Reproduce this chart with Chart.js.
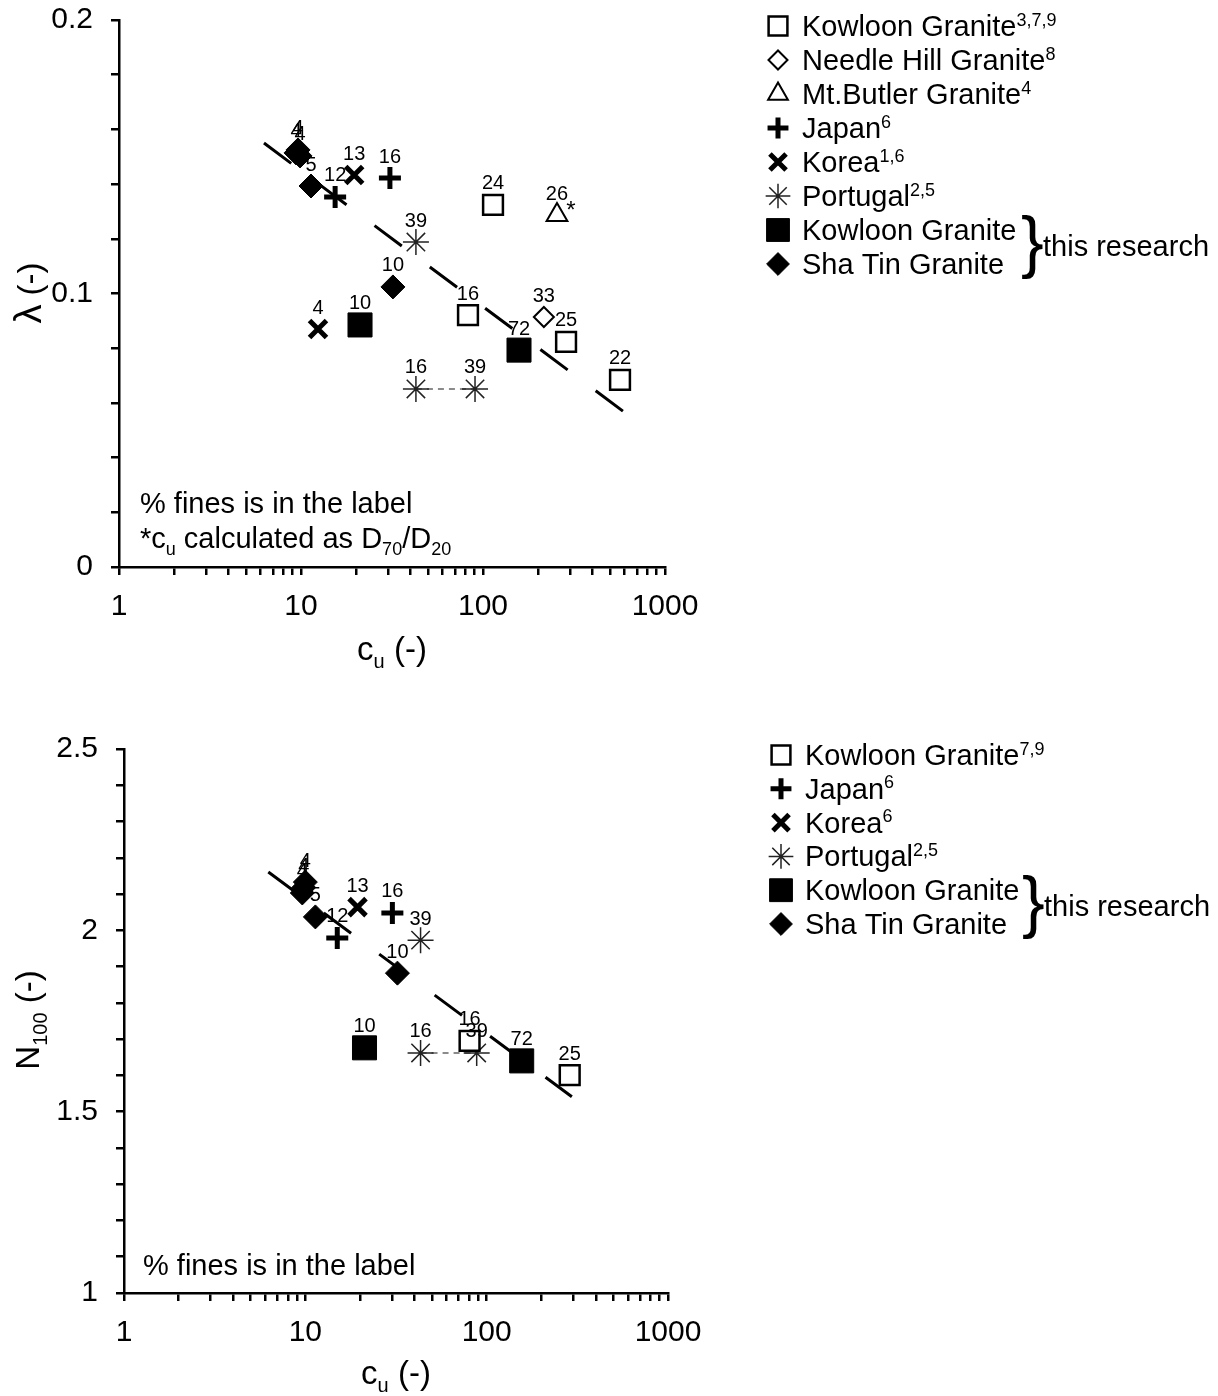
<!DOCTYPE html>
<html lang="en">
<head>
  <meta charset="UTF-8">
  <title>lambda and N100 against cu</title>
  <style>
    html, body { margin: 0; padding: 0; background: #fff; }
    .wrap { position: absolute; left: 0; width: 1218px; height: 698px; }
    #top { top: 0; }
    #bottom { top: 698px; }
  </style>
</head>
<body>
  <div class="wrap" id="top"><canvas id="lambdaChart" width="1218" height="698"></canvas></div>
  <div class="wrap" id="bottom"><canvas id="nChart" width="1218" height="698"></canvas></div>
<script src="https://cdn.jsdelivr.net/npm/chart.js@4"></script>
<script>
// ---- tick labels
const xTickLabels = ['1', '10', '100', '1000'];
const lambdaTickLabels = ['0', '0.1', '0.2'];
const n100TickLabels = ['1', '1.5', '2', '2.5'];

// ---- top chart: lambda vs cu  (fines % in the labels)
const kwLitCu = [113.5, 82.7, 286, 566];
const kwLitLambda = [0.1324, 0.0921, 0.0823, 0.0684];
const kwLitFines = ['24', '16', '25', '22'];
const needleCu = [216];
const needleLambda = [0.0914];
const needleFines = ['33'];
const butlerCu = [255];
const butlerLambda = [0.1287];
const butlerFines = ['26'];
const japanCu = [30.8, 15.4];
const japanLambda = [0.1422, 0.1353];
const japanFines = ['16', '12'];
const koreaCu = [19.6, 12.4];
const koreaLambda = [0.1433, 0.0870];
const koreaFines = ['13', '4'];
const portugalCu = [42.8, 42.8, 90.4];
const portugalLambda = [0.1188, 0.0651, 0.0651];
const portugalFines = ['39', '16', '39'];
const kwOwnCu = [21.1, 157.7];
const kwOwnLambda = [0.0885, 0.0793];
const kwOwnFines = ['10', '72'];
const shaTinCu = [9.63, 9.39, 9.88, 11.35, 32.0];
const shaTinLambda = [0.1525, 0.1514, 0.1503, 0.1393, 0.1024];
const shaTinFines = ['4', '4', '4', '5', '10'];
const trendLambdaCu = [6.26, 595];
const trendLambda = [0.155, 0.0567];

// ---- bottom chart: N100 vs cu
const kwLitCuN = [80.5, 287];
const kwLitN = [1.695, 1.601];
const kwLitFinesN = ['16', '25'];
const japanCuN = [30.2, 15.0];
const japanN = [2.048, 1.979];
const japanFinesN = ['16', '12'];
const koreaCuN = [19.4];
const koreaN = [2.064];
const koreaFinesN = ['13'];
const portugalCuN = [43.2, 43.2, 88.1];
const portugalN = [1.973, 1.662, 1.662];
const portugalFinesN = ['39', '16', '39'];
const kwOwnCuN = [21.2, 156];
const kwOwnN = [1.676, 1.640];
const kwOwnFinesN = ['10', '72'];
const shaTinCuN = [10.0, 9.8, 9.62, 11.36, 32.2];
const shaTinN = [2.133, 2.118, 2.103, 2.037, 1.882];
const shaTinFinesN = ['4', '4', '4', '5', '10'];
const trendNCu = [6.25, 295];
const trendN = [2.161, 1.541];

const FONT = '"Liberation Sans", Arial, sans-serif';

function pts(xs, ys) {
  return xs.map((x, i) => ({ x: x, y: ys[i] }));
}

// marker styles
const openSquare = { pointStyle: 'rect', pointRadius: 14, borderWidth: 2.5, backgroundColor: '#fff', borderColor: '#000' };
const openDiamond = { pointStyle: 'rectRot', pointRadius: 10, borderWidth: 2, backgroundColor: '#fff', borderColor: '#000' };
const openTriangle = { pointStyle: 'triangle', pointRadius: 12, borderWidth: 2, backgroundColor: '#fff', borderColor: '#000' };
const plus = { pointStyle: 'cross', pointRadius: 11, borderWidth: 5, backgroundColor: '#000', borderColor: '#000' };
const xMark = { pointStyle: 'crossRot', pointRadius: 12, borderWidth: 5, backgroundColor: '#000', borderColor: '#000' };
const asterisk = { pointStyle: 'star', pointRadius: 13, borderWidth: 1.5, backgroundColor: '#222', borderColor: '#222' };
const fullSquare = { pointStyle: 'rect', pointRadius: 17, borderWidth: 1, backgroundColor: '#000', borderColor: '#000' };
const fullDiamond = { pointStyle: 'rectRot', pointRadius: 12, borderWidth: 1, backgroundColor: '#000', borderColor: '#000' };

function series(label, xs, ys, fines, style, extra) {
  return Object.assign({ label: label, data: pts(xs, ys), fines: fines }, style, extra || {});
}

function trendLine(xs, ys) {
  return { label: 'trend', data: pts(xs, ys), showLine: true, pointRadius: 0,
    borderColor: '#000', borderWidth: 3, borderDash: [34, 35], fill: false };
}

function linkLine(xs, ys) {
  return { label: 'link', data: pts(xs, ys), showLine: true, pointRadius: 0,
    borderColor: '#666', borderWidth: 1.5, borderDash: [6, 5], fill: false };
}

// draws text made of parts, some sub- or superscript
function richText(ctx, parts, x, y, size, align) {
  const fontOf = p => Math.round((p.sub || p.sup) ? size * 0.62 : size * (p.scale || 1)) + 'px ' + FONT;
  let total = 0;
  parts.forEach(p => { ctx.font = fontOf(p); total += ctx.measureText(p.t).width; });
  let cx = align === 'center' ? x - total / 2 : x;
  ctx.textAlign = 'left';
  ctx.textBaseline = 'alphabetic';
  parts.forEach(p => {
    ctx.font = fontOf(p);
    const dy = p.sub ? size * 0.24 : (p.sup ? -size * 0.36 : 0);
    ctx.fillText(p.t, cx, y + dy);
    cx += ctx.measureText(p.t).width;
  });
}

const overlay = {
  id: 'overlay',
  afterDatasetsDraw(chart, args, o) {
    const ctx = chart.ctx;
    ctx.save();
    ctx.fillStyle = '#000';
    // fines labels above the points
    chart.data.datasets.forEach((ds, i) => {
      if (!ds.fines) return;
      chart.getDatasetMeta(i).data.forEach((el, j) => {
        ctx.font = '20px ' + FONT;
        ctx.textAlign = 'center';
        ctx.textBaseline = 'middle';
        ctx.fillText(ds.fines[j], el.x, el.y - 21);
        if (ds.starNote) {
          ctx.font = '24px ' + FONT;
          ctx.fillText('*', el.x + 14, el.y - 4);
        }
      });
    });
    // axis titles
    ctx.save();
    ctx.translate(o.yTitle.x, o.yTitle.y);
    ctx.rotate(-Math.PI / 2);
    richText(ctx, o.yTitle.parts, 0, 11, 33, 'center');
    ctx.restore();
    richText(ctx, o.xTitle.parts, o.xTitle.x, o.xTitle.y, 33, 'center');
    // notes
    o.notes.forEach(n => richText(ctx, n.parts, n.x, n.y, 29, 'left'));
    // legend
    const L = o.legend;
    L.items.forEach((it, k) => {
      const ds = chart.data.datasets[it.ds];
      const y = L.y + k * L.dy;
      ctx.fillStyle = ds.backgroundColor;
      ctx.strokeStyle = ds.borderColor;
      ctx.lineWidth = ds.borderWidth;
      Chart.helpers.drawPoint(ctx, { pointStyle: ds.pointStyle, radius: ds.pointRadius * 0.95,
        borderWidth: ds.borderWidth, rotation: 0 }, L.mx, y);
      ctx.fillStyle = '#000';
      const parts = [{ t: it.name }];
      if (it.ref) parts.push({ t: it.ref, sup: true });
      richText(ctx, parts, L.tx, y + 10, 29, 'left');
    });
    // brace and "this research"
    ctx.font = '68px ' + FONT;
    ctx.textAlign = 'left';
    ctx.textBaseline = 'middle';
    ctx.fillText('}', L.braceX, L.braceY);
    ctx.font = '29px ' + FONT;
    ctx.fillText('this research', L.braceX + 22, L.braceY + 2);
    ctx.restore();
  }
};

function axes(yMin, yMax, yStep, yLabels, leftW, bottomH) {
  const tickFont = { family: FONT, size: 30 };
  return {
    x: {
      type: 'logarithmic', min: 1, max: 1000,
      border: { color: '#000', width: 2.5 },
      grid: { drawOnChartArea: false, drawTicks: true, tickLength: 8, color: '#000', lineWidth: 2.5 },
      ticks: {
        autoSkip: false, maxRotation: 0, color: '#000', padding: 14, font: tickFont,
        callback: v => { const s = String(+(+v).toFixed(3)); return xTickLabels.includes(s) ? s : ''; }
      },
      afterBuildTicks: scale => {
        const t = [];
        [1, 10, 100].forEach(d => { for (let m = 1; m < 10; m++) t.push({ value: m * d }); });
        t.push({ value: 1000 });
        scale.ticks = t;
      },
      afterFit: scale => { scale.height = bottomH; scale.paddingLeft = 0; scale.paddingRight = 0; }
    },
    y: {
      min: yMin, max: yMax,
      border: { color: '#000', width: 2.5 },
      grid: { drawOnChartArea: false, drawTicks: true, tickLength: 8, color: '#000', lineWidth: 2.5 },
      ticks: {
        stepSize: yStep, autoSkip: false, color: '#000', padding: 18, font: tickFont,
        callback: v => { const s = String(+(+v).toFixed(3)); return yLabels.includes(s) ? s : ''; }
      },
      afterFit: scale => { scale.width = leftW; scale.paddingTop = 0; scale.paddingBottom = 0; }
    }
  };
}

function build(id, datasets, scales, padding, overlayOpts) {
  return new Chart(document.getElementById(id), {
    type: 'scatter',
    data: { datasets: datasets },
    options: {
      responsive: false,
      animation: false,
      events: [],
      layout: { padding: padding },
      scales: scales,
      plugins: { legend: { display: false }, tooltip: { enabled: false }, overlay: overlayOpts }
    },
    plugins: [overlay]
  });
}

// ---- top chart
const topSets = [
  series('Kowloon Granite', kwLitCu, kwLitLambda, kwLitFines, openSquare),
  series('Needle Hill Granite', needleCu, needleLambda, needleFines, openDiamond),
  series('Mt.Butler Granite', butlerCu, butlerLambda, butlerFines, openTriangle, { starNote: true }),
  series('Japan', japanCu, japanLambda, japanFines, plus),
  series('Korea', koreaCu, koreaLambda, koreaFines, xMark),
  series('Portugal', portugalCu, portugalLambda, portugalFines, asterisk),
  series('Kowloon Granite (this research)', kwOwnCu, kwOwnLambda, kwOwnFines, fullSquare),
  series('Sha Tin Granite', shaTinCu, shaTinLambda, shaTinFines, fullDiamond),
  linkLine(portugalCu.slice(1), portugalLambda.slice(1)),
  trendLine(trendLambdaCu, trendLambda)
];

build('lambdaChart', topSets, axes(0, 0.2, 0.02, lambdaTickLabels, 119, 131),
  { top: 20, right: 553, left: 0, bottom: 0 },
  {
    yTitle: { x: 30, y: 293, parts: [{ t: 'λ', scale: 1.15 }, { t: ' (-)' }] },
    xTitle: { x: 392, y: 660, parts: [{ t: 'c' }, { t: 'u', sub: true }, { t: ' (-)' }] },
    notes: [
      { x: 140, y: 513, parts: [{ t: '% fines is in the label' }] },
      { x: 140, y: 548, parts: [{ t: '*c' }, { t: 'u', sub: true }, { t: ' calculated as D' }, { t: '70', sub: true }, { t: '/D' }, { t: '20', sub: true }] }
    ],
    legend: {
      mx: 778, tx: 802, y: 26, dy: 34.0, braceX: 1021, braceY: 246,
      items: [
        { ds: 0, name: 'Kowloon Granite', ref: '3,7,9' },
        { ds: 1, name: 'Needle Hill Granite', ref: '8' },
        { ds: 2, name: 'Mt.Butler Granite', ref: '4' },
        { ds: 3, name: 'Japan', ref: '6' },
        { ds: 4, name: 'Korea', ref: '1,6' },
        { ds: 5, name: 'Portugal', ref: '2,5' },
        { ds: 6, name: 'Kowloon Granite', ref: '' },
        { ds: 7, name: 'Sha Tin Granite', ref: '' }
      ]
    }
  });

// ---- bottom chart
const bottomSets = [
  series('Kowloon Granite', kwLitCuN, kwLitN, kwLitFinesN, openSquare),
  series('Japan', japanCuN, japanN, japanFinesN, plus),
  series('Korea', koreaCuN, koreaN, koreaFinesN, xMark),
  series('Portugal', portugalCuN, portugalN, portugalFinesN, asterisk),
  series('Kowloon Granite (this research)', kwOwnCuN, kwOwnN, kwOwnFinesN, fullSquare),
  series('Sha Tin Granite', shaTinCuN, shaTinN, shaTinFinesN, fullDiamond),
  linkLine(portugalCuN.slice(1), portugalN.slice(1)),
  trendLine(trendNCu, trendN)
];

build('nChart', bottomSets, axes(1, 2.5, 0.1, n100TickLabels, 124, 103),
  { top: 51, right: 550, left: 0, bottom: 0 },
  {
    yTitle: { x: 28, y: 322, parts: [{ t: 'N' }, { t: '100', sub: true }, { t: ' (-)' }] },
    xTitle: { x: 396, y: 686, parts: [{ t: 'c' }, { t: 'u', sub: true }, { t: ' (-)' }] },
    notes: [
      { x: 143, y: 577, parts: [{ t: '% fines is in the label' }] }
    ],
    legend: {
      mx: 781, tx: 805, y: 57, dy: 33.8, braceX: 1022, braceY: 208,
      items: [
        { ds: 0, name: 'Kowloon Granite', ref: '7,9' },
        { ds: 1, name: 'Japan', ref: '6' },
        { ds: 2, name: 'Korea', ref: '6' },
        { ds: 3, name: 'Portugal', ref: '2,5' },
        { ds: 4, name: 'Kowloon Granite', ref: '' },
        { ds: 5, name: 'Sha Tin Granite', ref: '' }
      ]
    }
  });
</script>
</body>
</html>
